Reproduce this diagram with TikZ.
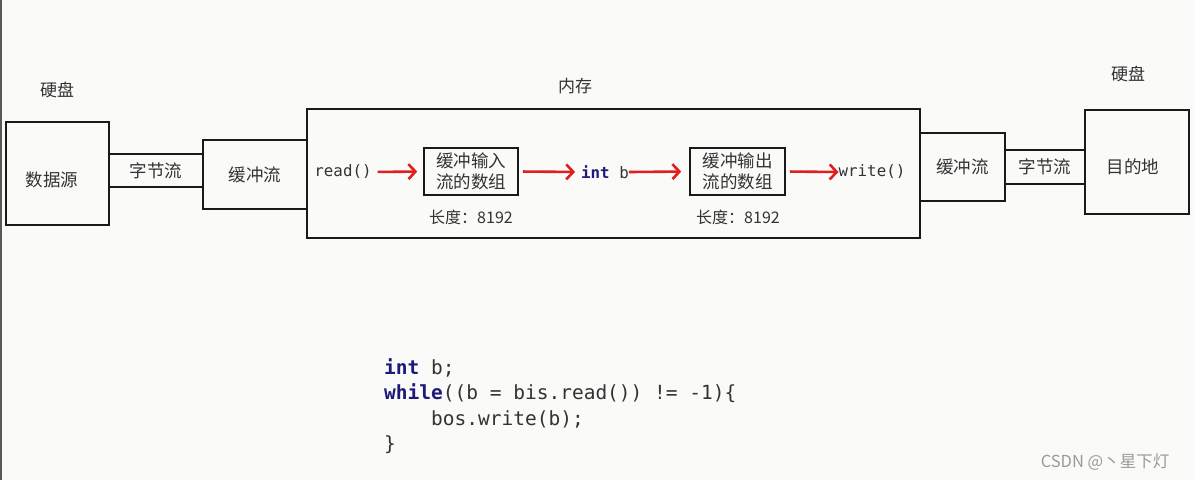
\documentclass[tikz,border=0pt]{standalone}
\usepackage{fontspec}
\setmainfont{Noto Sans CJK SC}
\setmonofont{DejaVu Sans Mono}
\newfontfamily\cjk{Noto Sans CJK SC}
\usetikzlibrary{arrows.meta}
\definecolor{bg}{HTML}{FAFAF9}
\definecolor{txt}{HTML}{333333}
\definecolor{kw}{HTML}{1E1A78}
\definecolor{arr}{HTML}{E01E1E}
\definecolor{wm}{HTML}{9A9A9A}
\tikzset{
  box/.style={draw=black!90, line width=1.8pt, inner sep=0pt, text=txt, font=\cjk\fontsize{17.5}{19}\selectfont},
  lbl/.style={inner sep=0pt, text=txt, font=\cjk\fontsize{17}{19}\selectfont},
  small/.style={inner sep=0pt, text=txt, font=\cjk\fontsize{16}{18}\selectfont},
  mono/.style={inner sep=0pt, text=txt, font=\ttfamily\fontsize{15.8}{18}\selectfont},
  code/.style={inner sep=0pt, anchor=west, text=txt, text height=0.75em, text depth=0.25em, font=\ttfamily\fontsize{19.5}{22}\selectfont},
  redarr/.style={draw=arr, line width=2.6pt, -{Straight Barb[length=7pt,width=15pt,line width=2.6pt]}},
}
\begin{document}
\begin{tikzpicture}[x=1pt,y=-1pt]
\fill[bg] (0,0) rectangle (1195,480);
\useasboundingbox (0,0) rectangle (1195,480);
\draw[black!65, line width=1.5pt] (1,0) -- (1,480);

% left side
\node[lbl] (hd1) at (57,90) {硬盘};
\node[box, minimum width=103pt, minimum height=103pt] (src) at (57.5,173.5) {};
\node[lbl, font=\cjk\fontsize{17.5}{19}\selectfont] (srct) at (52,180) {数据源};
\node[box, minimum width=94pt, minimum height=33pt] (bsl) at (156,170.5) {字节流};
\node[box, minimum width=104pt, minimum height=69pt] (hbl) at (255,174.5) {缓冲流};

% memory
\node[lbl] (memlbl) at (575,86) {内存};
\node[box, minimum width=613pt, minimum height=129pt] (mem) at (613.5,173.5) {};

\node[mono] (read) at (343,172) {read()};
\node[box, line width=1.6pt, minimum width=94pt, minimum height=47pt, align=center, font=\cjk\fontsize{17.5}{21}\selectfont] (inb) at (471,171.5) {缓冲输入\\流的数组};
\node[small] (len1) at (471,217) {长度：8192};
\node[mono] (intb) at (605,172) {\textcolor{kw}{\textbf{int}} b};
\node[box, line width=1.6pt, minimum width=95pt, minimum height=47pt, align=center, font=\cjk\fontsize{17.5}{21}\selectfont] (outb) at (737.5,171.5) {缓冲输出\\流的数组};
\node[small] (len2) at (738,217) {长度：8192};
\node[mono] (write) at (872,172) {write()};

\draw[redarr, shorten <=6pt, shorten >=6pt] (read.east) -- (inb.west);
\draw[redarr, shorten <=4pt, shorten >=6pt] (inb.east) -- (intb.west);
\draw[redarr, shorten >=8pt] (intb.east) -- (outb.west);
\draw[redarr, shorten <=4pt, shorten >=0pt] (outb.east) -- (write.west);

% right side
\node[box, minimum width=85pt, minimum height=68pt] (hbr) at (962.5,167) {缓冲流};
\node[box, minimum width=80pt, minimum height=34pt] (bsr) at (1045,167) {字节流};
\node[box, minimum width=104pt, minimum height=104pt] (dst) at (1137,162) {};
\node[lbl, font=\cjk\fontsize{17.5}{19}\selectfont] (dstt) at (1133,167) {目的地};
\node[lbl] (hd2) at (1128,74) {硬盘};

% code
\node[code] (c1) at (384,372) {\textcolor{kw}{\textbf{int}} b;};
\node[code] (c2) at (384,397) {\textcolor{kw}{\textbf{while}}((b = bis.read()) != -1)\{};
\node[code] (c3) at (384,423) {\ \ \ \ bos.write(b);};
\node[code] (c4) at (384,448) {\}};

% watermark
\node[inner sep=0pt, text=wm, font=\cjk\fontsize{16.5}{18}\selectfont] (wmk) at (1105,462) {CSDN @丶星下灯};
\end{tikzpicture}
\end{document}
